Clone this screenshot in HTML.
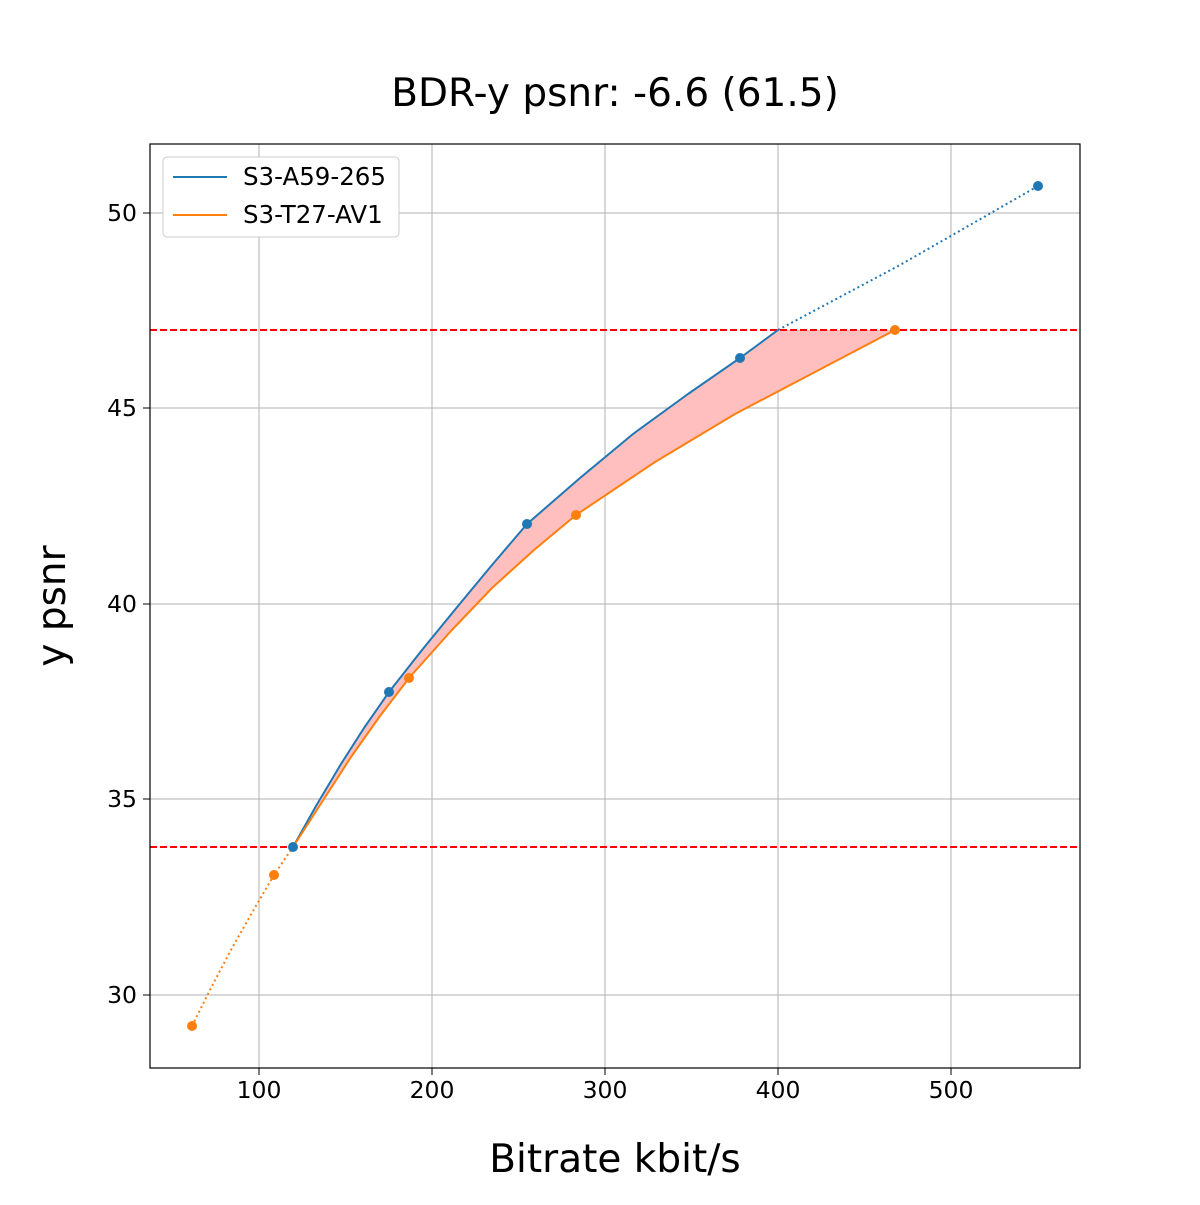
<!DOCTYPE html>
<html><head><style>body{margin:0;background:#fff}</style></head><body>
<svg width="1200" height="1200" xmlns="http://www.w3.org/2000/svg" font-family="DejaVu Sans, Liberation Sans, sans-serif">
<rect width="1200" height="1200" fill="#fff"/>
<g stroke="#b0b0b0" stroke-width="1">
<line x1="259" y1="144" x2="259" y2="1068"/><line x1="432" y1="144" x2="432" y2="1068"/><line x1="605" y1="144" x2="605" y2="1068"/><line x1="778" y1="144" x2="778" y2="1068"/><line x1="951" y1="144" x2="951" y2="1068"/>
<line x1="150" y1="213" x2="1080" y2="213"/><line x1="150" y1="408" x2="1080" y2="408"/><line x1="150" y1="604" x2="1080" y2="604"/><line x1="150" y1="799" x2="1080" y2="799"/><line x1="150" y1="995" x2="1080" y2="995"/>
</g>
<polygon fill="#ffbfbf" points="293,847 316,806 341,764 364,728 389,692 422,650 458,606 492,565 527,524 580,478 633,434 688,394 740,358 759,344 778,330 895,330 815,372 735,414 655,462 576,515 534,550 492,588 450,632 409,678 380,716 351,757 322,802"/>
<line x1="150" y1="330" x2="1080" y2="330" stroke="#f00" stroke-width="2" stroke-dasharray="7,3"/>
<line x1="150" y1="847" x2="1080" y2="847" stroke="#f00" stroke-width="2" stroke-dasharray="7,3"/>
<polyline fill="none" stroke="#1f77b4" stroke-width="2" stroke-linejoin="round" points="293,847 316,806 341,764 364,728 389,692 422,650 458,606 492,565 527,524 580,478 633,434 688,394 740,358 759,344 778,330"/>
<polyline fill="none" stroke="#ff7f0e" stroke-width="2" stroke-linejoin="round" points="293,847 322,802 351,757 380,716 409,678 450,632 492,588 534,550 576,515 655,462 735,414 815,372 895,330"/>
<polyline fill="none" stroke="#1f77b4" stroke-width="2" stroke-dasharray="2,3" points="778,330 840,297 900,265 970,225 1038,186"/>
<polyline fill="none" stroke="#ff7f0e" stroke-width="2" stroke-dasharray="2,3" points="192,1026 212,986 232,948 253,911 274,875 293,847"/>
<g fill="#1f77b4"><circle cx="293" cy="847" r="5"/><circle cx="389" cy="692" r="5"/><circle cx="527" cy="524" r="5"/><circle cx="740" cy="358" r="5"/><circle cx="1038" cy="186" r="5"/></g>
<g fill="#ff7f0e"><circle cx="192" cy="1026" r="5"/><circle cx="274" cy="875" r="5"/><circle cx="409" cy="678" r="5"/><circle cx="576" cy="515" r="5"/><circle cx="895" cy="330" r="5"/></g>
<rect x="150" y="144" width="930" height="924" fill="none" stroke="#000" stroke-width="1.2"/>
<g stroke="#000"><line x1="259" y1="1068" x2="259" y2="1075"/><line x1="432" y1="1068" x2="432" y2="1075"/><line x1="605" y1="1068" x2="605" y2="1075"/><line x1="778" y1="1068" x2="778" y2="1075"/><line x1="951" y1="1068" x2="951" y2="1075"/>
<line x1="143" y1="213" x2="150" y2="213"/><line x1="143" y1="408" x2="150" y2="408"/><line x1="143" y1="604" x2="150" y2="604"/><line x1="143" y1="799" x2="150" y2="799"/><line x1="143" y1="995" x2="150" y2="995"/></g>
<g font-size="23.5" text-anchor="middle"><text x="259" y="1098">100</text><text x="432" y="1098">200</text><text x="605" y="1098">300</text><text x="778" y="1098">400</text><text x="951" y="1098">500</text></g>
<g font-size="23.5" text-anchor="end"><text x="137" y="221">50</text><text x="137" y="416">45</text><text x="137" y="612">40</text><text x="137" y="807">35</text><text x="137" y="1003">30</text></g>
<text x="615" y="106" font-size="39" text-anchor="middle">BDR-y psnr: -6.6 (61.5)</text>
<text x="615" y="1172" font-size="39" text-anchor="middle">Bitrate kbit/s</text>
<text transform="translate(65,606) rotate(-90)" font-size="39" text-anchor="middle">y psnr</text>
<rect x="163" y="157" width="236" height="80" rx="4" fill="#fff" stroke="#ccc"/>
<line x1="173" y1="177" x2="227" y2="177" stroke="#1f77b4" stroke-width="2"/>
<line x1="173" y1="215" x2="227" y2="215" stroke="#ff7f0e" stroke-width="2"/>
<text x="243" y="185" font-size="24.5">S3-A59-265</text>
<text x="243" y="223" font-size="24.5">S3-T27-AV1</text>
</svg>
</body></html>
